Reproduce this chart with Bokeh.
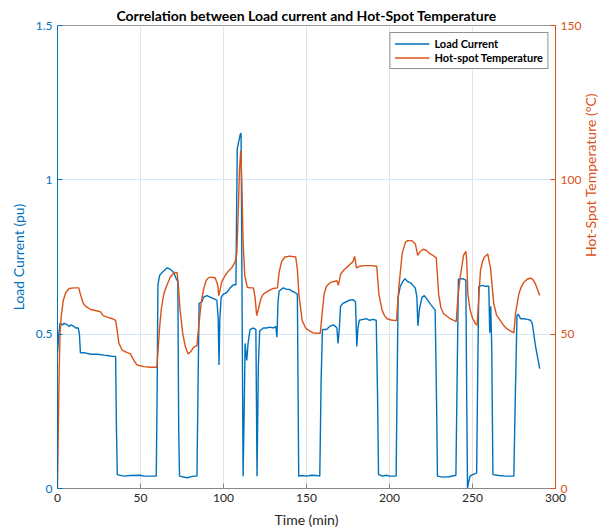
import math
from bokeh.plotting import figure
from bokeh.models import Range1d, LinearAxis, FixedTicker, Legend, LegendItem
from bokeh.embed import file_html
from bokeh.resources import INLINE

# ---- data ----
t_load = [0, 0.8, 1.5, 3, 4, 6, 7, 8, 10, 11, 12.5, 13.2, 13.8, 16, 20, 24, 28, 31, 33, 35, 35.5, 36,
          40, 44, 50, 52, 56, 59.5, 60, 60.5, 61.5, 63, 66, 68, 70, 71.5, 72.5, 73, 73.5, 78, 82, 84,
          84.6, 85.3, 87, 88, 90, 92, 94, 96, 96.8, 97.3, 97.8, 98.6, 100, 102, 104, 106, 107.5, 107.8,
          108.3, 109, 110.2, 110.6, 111.2, 111.8, 112.6, 113, 113.5, 114, 114.8, 116, 118, 119.5, 120.2,
          121, 121.8, 124, 126, 128, 130, 131.5, 132.2, 132.8, 133.5, 136, 138, 140, 141, 143, 144.5,
          145.3, 147, 150, 153, 156, 158, 158.8, 159.6, 162, 164, 166, 167.5, 168.3, 169, 169.8, 170.5,
          172, 174, 176, 178, 179.5, 180.3, 181, 181.8, 184, 186, 188, 190, 192, 192.8, 193.4, 196, 198,
          200, 204, 204.5, 205.2, 206.5, 208, 209.3, 211, 213, 215.5, 216.5, 217.1, 218, 219.6, 221, 223,
          225, 227.5, 228.3, 228.9, 232, 236, 240, 240.6, 241.5, 244, 246, 246.5, 247.0, 247.6, 248.5,
          250, 252.5, 253.2, 253.8, 256, 258, 259.8, 260.4, 261, 261.6, 262.3, 266, 270, 274.9, 275.8,
          276.8, 277.5, 279, 281, 283, 285, 286, 288, 290.5]
load_current = [0.44, 0.50, 0.535, 0.53, 0.535, 0.53, 0.525, 0.53, 0.525, 0.52, 0.52, 0.50, 0.44, 0.44,
                0.435, 0.435, 0.432, 0.43, 0.428, 0.428, 0.2, 0.045, 0.04, 0.042, 0.043, 0.04, 0.04, 0.04,
                0.3, 0.66, 0.69, 0.70, 0.715, 0.71, 0.70, 0.68, 0.67, 0.2, 0.04, 0.035, 0.04, 0.04, 0.3,
                0.60, 0.605, 0.62, 0.625, 0.62, 0.615, 0.61, 0.55, 0.40, 0.55, 0.62, 0.63, 0.635, 0.65,
                0.66, 0.66, 0.85, 1.10, 1.12, 1.15, 1.15, 0.6, 0.04, 0.3, 0.47, 0.44, 0.415, 0.47, 0.515,
                0.52, 0.515, 0.04, 0.4, 0.51, 0.52, 0.52, 0.523, 0.52, 0.525, 0.49, 0.60, 0.64, 0.65, 0.645,
                0.645, 0.64, 0.635, 0.63, 0.04, 0.042, 0.04, 0.043, 0.042, 0.04, 0.35, 0.515, 0.515, 0.525,
                0.53, 0.525, 0.52, 0.47, 0.52, 0.59, 0.60, 0.605, 0.61, 0.612, 0.605, 0.46, 0.52, 0.545,
                0.548, 0.55, 0.545, 0.548, 0.545, 0.3, 0.045, 0.04, 0.043, 0.04, 0.04, 0.3, 0.62, 0.655,
                0.67, 0.68, 0.67, 0.665, 0.65, 0.62, 0.527, 0.58, 0.62, 0.625, 0.61, 0.595, 0.578, 0.3,
                0.04, 0.037, 0.038, 0.043, 0.3, 0.678, 0.68, 0.675, 0.3, 0.0, 0.02, 0.04, 0.045, 0.05, 0.4,
                0.655, 0.658, 0.655, 0.655, 0.505, 0.59, 0.45, 0.045, 0.042, 0.04, 0.04, 0.3, 0.56, 0.565,
                0.55, 0.55, 0.548, 0.545, 0.535, 0.46, 0.388]

t_temp = [0, 0.5, 1, 1.5, 2.3, 3.5, 5, 7, 10, 12.8, 14, 15.5, 17, 20, 24, 26, 27.5, 30, 33, 35, 36, 37,
          39, 42, 44, 46, 48, 52, 56, 59.8, 60.5, 61.5, 62.5, 64, 66, 68, 70, 72, 72.8, 73.8, 75.5, 77,
          78.7, 80.5, 82, 84, 85, 86.5, 88, 89.5, 91, 93, 95, 96.5, 97.2, 98, 99, 101, 103, 105, 107, 108,
          108.8, 109.6, 110.4, 111.0, 111.8, 112.8, 114.3, 116, 118, 119, 120, 121, 122.5, 124, 127, 130,
          132.5, 133.5, 135, 137, 140, 143.5, 144.5, 145.4, 147.4, 149.5, 151.4, 154, 158.3, 159.3, 160.6,
          162, 164.6, 168.3, 169.2, 170.6, 172.5, 174.6, 176.6, 178, 179, 180.1, 182, 185, 189, 192.3,
          193.6, 195.6, 197, 198.6, 201, 204.2, 205.6, 207.6, 209.6, 211, 213.5, 215.6, 217, 218.6, 220.2,
          222, 224.6, 226.5, 228.2, 229.6, 231, 232.6, 236.6, 240.2, 241.2, 242.6, 244.6, 246, 246.5,
          247.2, 248.5, 250, 251.8, 252.8, 253.8, 254.8, 256, 257.2, 259.2, 260.2, 260.8, 262.8, 264.5,
          266.8, 268.5, 270.8, 274.9, 276, 277.9, 279.5, 280.9, 283, 285, 286.5, 288, 290.5]
hotspot_temp = [0, 20, 38, 50, 56, 61, 63.5, 64.8, 65, 65, 62.5, 60, 59, 58, 57.5, 57.2, 56, 55.5, 55,
                54.5, 51, 47, 44.8, 44, 43.6, 41.5, 40, 39.5, 39.3, 39.3, 44, 52, 58, 63, 66, 68.5, 69.8,
                70, 66, 58, 50, 46, 43.6, 44.5, 45.8, 46.3, 52, 60, 64.5, 67.3, 68.3, 68.5, 68.2, 66, 62.5,
                64.5, 67, 69, 70.5, 71.5, 73.5, 76, 88, 103, 109.5, 100, 80, 69, 65.2, 65, 65, 62, 56, 58,
                61.5, 63, 64, 64.8, 65, 70, 73.5, 75, 75.3, 75, 71, 63, 54.4, 52, 51.2, 50.4, 50.3, 56, 63,
                65.5, 66.8, 67.3, 65.8, 69.5, 70.8, 71.8, 72.8, 73.5, 75.2, 71.5, 72, 72.2, 72.2, 72, 63,
                57.7, 56, 55, 54.6, 54.4, 65, 76, 79.8, 80.3, 80.3, 79.2, 75.5, 76.8, 77.5, 77.2, 76, 75.4,
                74.7, 63, 58.5, 56.6, 55, 54.1, 62, 68.5, 75.5, 76.8, 74, 63, 58, 55.2, 53.4, 52.9, 62,
                70.6, 73.5, 75, 76, 73, 71.8, 59.8, 56.2, 54.4, 53, 51.7, 50.4, 57, 63, 65.5, 66.8, 67.8,
                68.2, 67.6, 66.2, 62.5]

x_ticks = [0, 50, 100, 150, 200, 250, 300]
left_ticks = [0, 0.5, 1, 1.5]
left_tick_labels = ["0", "0.5", "1", "1.5"]
right_ticks = [0, 50, 100, 150]

BLUE = "#0072BD"
ORANGE = "#D95319"
DARK = "#262626"
FONT = "Lato"

p = figure(width=611, height=530, output_backend="svg", toolbar_location=None,
           x_range=Range1d(0, 300), y_range=Range1d(0, 1.5),
           min_border_left=57, min_border_right=56, min_border_top=25, min_border_bottom=42)
p.background_fill_color = "white"
p.border_fill_color = "white"
p.outline_line_color = "#999999"

p.title.text = "Correlation between Load current and Hot-Spot Temperature"
p.title.align = "center"
p.title.text_font = FONT
p.title.text_font_size = "14px"
p.title.text_font_style = "bold"
p.title.text_color = "#000000"
p.title.standoff = 3
p.title.offset = 0

p.extra_y_ranges = {"temp": Range1d(0, 150)}

# bottom axis
xa = p.xaxis[0]
xa.ticker = FixedTicker(ticks=x_ticks)
xa.axis_label = "Time (min)"
xa.axis_line_color = "#888888"
xa.major_tick_line_color = "#888888"
xa.major_label_text_color = DARK
xa.axis_label_text_color = DARK

# left axis
ya = p.yaxis[0]
ya.ticker = FixedTicker(ticks=left_ticks)
ya.major_label_overrides = {k: v for k, v in zip(left_ticks, left_tick_labels)}
ya.axis_label = "Load Current (pu)"
ya.axis_line_color = BLUE
ya.major_tick_line_color = BLUE
ya.major_label_text_color = BLUE
ya.axis_label_text_color = BLUE

# right axis
ra = LinearAxis(y_range_name="temp", ticker=FixedTicker(ticks=right_ticks),
                axis_label="Hot-Spot Temperature (°C)")
ra.axis_line_color = ORANGE
ra.major_tick_line_color = ORANGE
ra.major_label_text_color = ORANGE
ra.axis_label_text_color = ORANGE
ra.axis_label_orientation = math.pi / 2
p.add_layout(ra, "right")

for ax in [xa, ya, ra]:
    ax.major_tick_in = 5
    ax.major_tick_out = 0
    ax.minor_tick_line_color = None
    ax.major_label_text_font = FONT
    ax.major_label_text_font_size = "12px"
    ax.axis_label_text_font = FONT
    ax.axis_label_text_font_size = "14px"
    ax.axis_label_text_font_style = "normal"
    ax.major_label_standoff = 5
    ax.axis_label_standoff = 6

p.xgrid.ticker = FixedTicker(ticks=x_ticks)
p.ygrid.ticker = FixedTicker(ticks=left_ticks)
p.xgrid.grid_line_color = "#e3e3e3"
p.ygrid.grid_line_color = "#d6e6f4"

r1 = p.line(t_load, load_current, line_color=BLUE, line_width=1.4)
r2 = p.line(t_temp, hotspot_temp, line_color=ORANGE, line_width=1.4, y_range_name="temp")

legend = Legend(items=[LegendItem(label="Load Current", renderers=[r1]),
                       LegendItem(label="Hot-spot Temperature", renderers=[r2])],
                location="top_right")
legend.label_text_font = FONT
legend.label_text_font_size = "11px"
legend.label_text_font_style = "bold"
legend.label_text_color = "#000000"
legend.border_line_color = DARK
legend.border_line_width = 1
legend.glyph_width = 35
legend.glyph_height = 13
legend.label_height = 13
legend.spacing = 1
legend.padding = 4
legend.margin = 7
legend.background_fill_alpha = 1
p.add_layout(legend)

open("out.html", "w").write(file_html(p, INLINE))
